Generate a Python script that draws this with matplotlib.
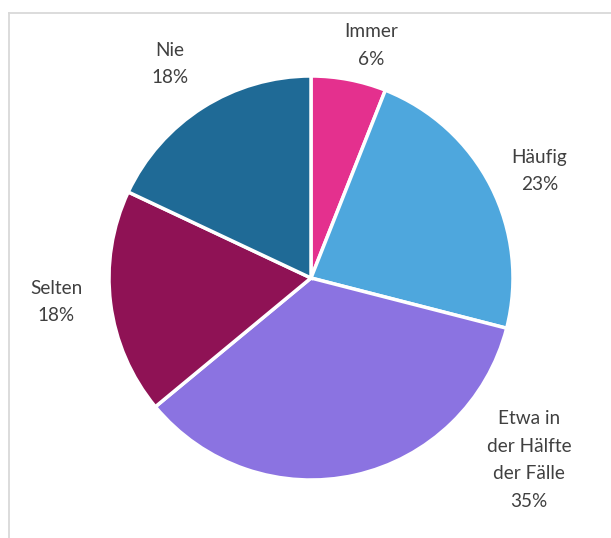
import matplotlib.pyplot as plt
from matplotlib.lines import Line2D

# data
labels = ["Immer", "Häufig", "Etwa in\nder Hälfte\nder Fälle", "Selten", "Nie"]
shares = [6, 23, 35, 18, 18]
colors = ["#E4308E", "#4EA7DD", "#8B73E1", "#8F1255", "#1F6A96"]

# label anchor points (data units of the pie axes, radius = 1)
label_pos = [(0.30, 1.15), (1.13, 0.53), (1.08, -0.90), (-1.26, -0.12), (-0.70, 1.06)]

W, H = 611, 538
fig = plt.figure(figsize=(W / 100, H / 100), dpi=100)

# pie centre and radius in pixels
cx, cy, r = 311, 278, 202
ax = fig.add_axes([(cx - r) / W, (H - cy - r) / H, 2 * r / W, 2 * r / H])
ax.pie(shares, colors=colors, startangle=90, counterclock=False, radius=1,
       wedgeprops=dict(edgecolor="white", linewidth=2.5))
ax.set_xlim(-1, 1)
ax.set_ylim(-1, 1)
ax.set_aspect("equal")
ax.axis("off")

for lab, v, (x, y) in zip(labels, shares, label_pos):
    ax.text(x, y, f"{lab}\n{v}%", ha="center", va="center", fontsize=13.7,
            family=["Lato", "DejaVu Sans"], color="#404040", linespacing=1.75,
            clip_on=False)

# chart frame (only left and top edges visible in the crop)
fx, fy = 8.5 / W, 1 - 13 / H
fig.add_artist(Line2D([fx, fx], [0, fy], color="#D9D9D9", lw=1.3, transform=fig.transFigure))
fig.add_artist(Line2D([fx, 1], [fy, fy], color="#D9D9D9", lw=1.3, transform=fig.transFigure))

fig.savefig("out.png", dpi=100)
